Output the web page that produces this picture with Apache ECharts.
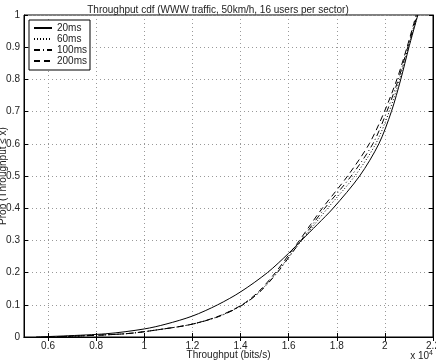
<!DOCTYPE html>
<html>
<head>
<meta charset="utf-8">
<script src="https://cdn.jsdelivr.net/npm/echarts@6/dist/echarts.min.js"></script>
<style>
  html, body { margin: 0; padding: 0; background: #fff; }
  #main { width: 436px; height: 364px; }
</style>
</head>
<body>
<div id="main"></div>
<script>
// cdf levels (y) shared by every curve
var probLevels = [0, 0.01, 0.025, 0.04, 0.065, 0.1, 0.14, 0.2, 0.26, 0.3, 0.35, 0.4, 0.5, 0.6, 0.7, 0.8, 0.9, 1.0];

// throughput (x 10^4 bits/s) reached at each level
var thr20ms  = [0.55, 0.84, 1.0, 1.09, 1.2, 1.305, 1.4, 1.512, 1.6, 1.653, 1.72, 1.785, 1.895, 1.975, 2.027, 2.066, 2.1, 2.137];
var thr60ms  = [0.6, 0.92, 1.08, 1.2, 1.312, 1.408, 1.478, 1.55, 1.612, 1.655, 1.708, 1.762, 1.875, 1.962, 2.018, 2.061, 2.097, 2.136];
var thr100ms = [0.6, 0.92, 1.08, 1.2, 1.315, 1.41, 1.48, 1.553, 1.613, 1.652, 1.7, 1.75, 1.86, 1.95, 2.008, 2.056, 2.095, 2.134];
var thr200ms = [0.6, 0.92, 1.08, 1.2, 1.31, 1.406, 1.474, 1.545, 1.605, 1.645, 1.692, 1.74, 1.845, 1.935, 1.998, 2.05, 2.092, 2.13];

var seriesNames = ['20ms', '60ms', '100ms', '200ms'];
var xTicks = [0.6, 0.8, 1, 1.2, 1.4, 1.6, 1.8, 2, 2.2];

function pairs(xs) {
    var out = [];
    for (var i = 0; i < xs.length; i++) {
        out.push([xs[i], probLevels[i]]);
    }
    return out;
}

var myChart = echarts.init(document.getElementById('main'));
var font = 'Liberation Sans, Arial, sans-serif';

var dashes = ['solid', [1, 2], [6, 3, 1, 3], [6, 4]];
var curves = [thr20ms, thr60ms, thr100ms, thr200ms];

var series = [];
for (var k = 0; k < curves.length; k++) {
    series.push({
        name: seriesNames[k],
        type: 'line',
        symbol: 'none',
        smooth: 0.3,
        data: pairs(curves[k]),
        lineStyle: { color: '#000', width: 1, type: dashes[k] },
        itemStyle: { color: '#000' },
        z: 5
    });
}

var gridLine = { show: true, lineStyle: { color: '#999', width: 1, type: [1, 3] } };

var option = {
    animation: false,
    backgroundColor: '#fff',
    textStyle: { fontFamily: font },
    title: {
        text: 'Throughput cdf (WWW traffic, 50km/h, 16 users per sector)',
        left: 'center',
        top: 0,
        textStyle: { fontSize: 10, fontWeight: 'normal', color: '#222', fontFamily: font }
    },
    legend: {
        data: seriesNames,
        orient: 'vertical',
        left: 29,
        top: 20,
        padding: [3, 3, 4, 4],
        itemGap: 1,
        itemWidth: 18,
        itemHeight: 10,
        itemStyle: { opacity: 0 },
        backgroundColor: '#fff',
        borderColor: '#000',
        borderWidth: 1,
        borderRadius: 0,
        textStyle: { fontSize: 10, color: '#222', fontFamily: font }
    },
    grid: {
        left: 24, right: 3, top: 15, bottom: 27,
        outerBoundsMode: 'none',
        containLabel: false,
        show: true, borderColor: '#000', borderWidth: 1, backgroundColor: 'transparent'
    },
    xAxis: [{
        type: 'value',
        min: 0.5, max: 2.2,
        name: 'Throughput (bits/s)',
        nameLocation: 'middle',
        nameGap: 13,
        nameMoveOverlap: false,
        nameTextStyle: { fontSize: 10, color: '#222' },
        axisLine: { show: true, lineStyle: { color: '#000' } },
        axisTick: { show: true, inside: true, length: 4, lineStyle: { color: '#000' }, customValues: xTicks },
        axisLabel: { fontSize: 10, color: '#222', margin: 4, customValues: xTicks },
        splitLine: gridLine
    }, {
        type: 'value',
        position: 'top',
        min: 0.5, max: 2.2,
        axisLine: { show: true, lineStyle: { color: '#000' } },
        axisTick: { show: true, inside: true, length: 4, lineStyle: { color: '#000' }, customValues: xTicks },
        axisLabel: { show: false },
        splitLine: { show: false }
    }],
    yAxis: [{
        type: 'value',
        min: 0, max: 1, interval: 0.1,
        name: 'Prob (Throughput \u2264 x)',
        nameLocation: 'middle',
        nameGap: 16,
        nameMoveOverlap: false,
        nameTextStyle: { fontSize: 10, color: '#222' },
        axisLine: { show: true, lineStyle: { color: '#000' } },
        axisTick: { show: true, inside: true, length: 4, lineStyle: { color: '#000' } },
        axisLabel: { fontSize: 10, color: '#222', margin: 4 },
        splitLine: gridLine
    }, {
        type: 'value',
        position: 'right',
        min: 0, max: 1, interval: 0.1,
        axisLine: { show: true, lineStyle: { color: '#000' } },
        axisTick: { show: true, inside: true, length: 4, lineStyle: { color: '#000' } },
        axisLabel: { show: false },
        splitLine: { show: false }
    }],
    graphic: [{
        type: 'text',
        right: 3,
        bottom: 3,
        style: {
            text: 'x 10{sup|4}',
            fontSize: 10,
            fontFamily: font,
            fill: '#222',
            rich: { sup: { fontSize: 7, verticalAlign: 'top', padding: [0, 0, 6, 0] } }
        }
    }],
    series: series
};

option && myChart.setOption(option);
</script>
</body>
</html>
